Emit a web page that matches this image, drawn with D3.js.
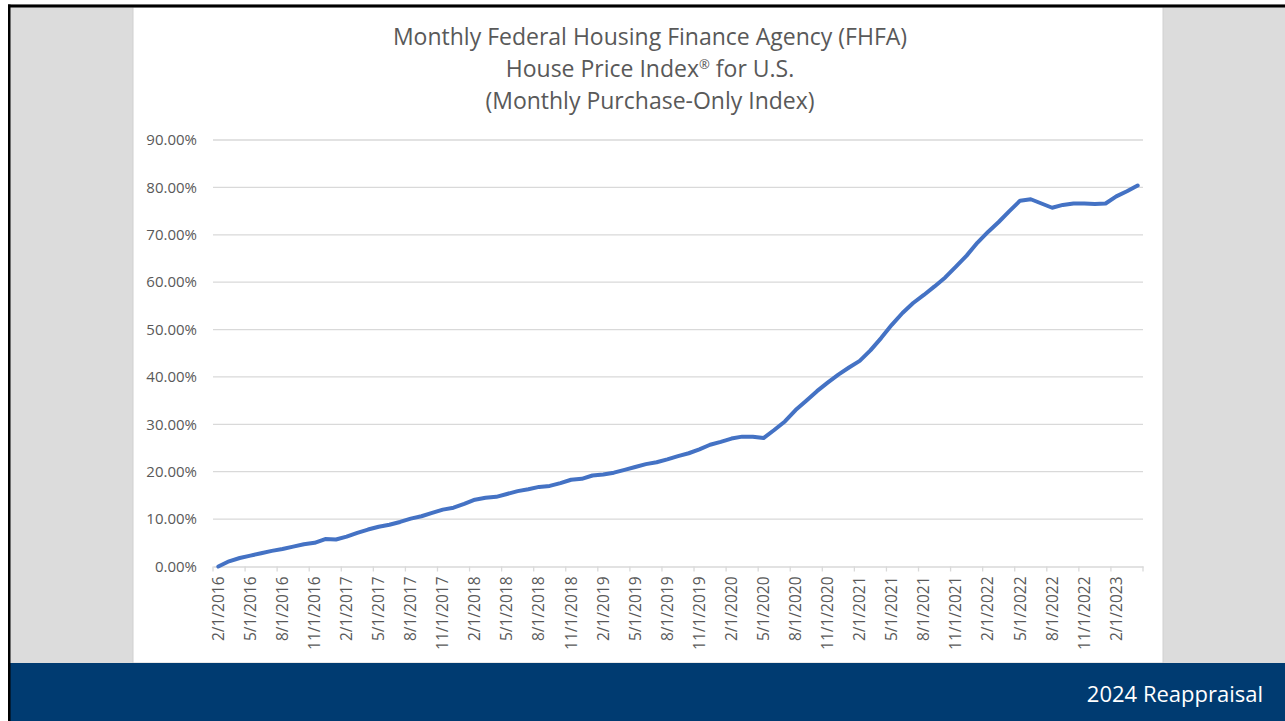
<!DOCTYPE html>
<html>
<head>
<meta charset="utf-8">
<script src="https://cdn.jsdelivr.net/npm/d3@7"></script>
<style>
body{margin:0;background:#fff;overflow:hidden;}
svg text{font-family:"Open Sans",sans-serif;}
</style>
</head>
<body>
<svg id="chart" width="1285" height="721"></svg>
<script>
// monthly categories, Feb 2016 .. Apr 2023
var months = [
    "2/1/2016","3/1/2016","4/1/2016","5/1/2016","6/1/2016","7/1/2016","8/1/2016","9/1/2016","10/1/2016","11/1/2016","12/1/2016",
    "1/1/2017","2/1/2017","3/1/2017","4/1/2017","5/1/2017","6/1/2017","7/1/2017","8/1/2017","9/1/2017","10/1/2017","11/1/2017","12/1/2017",
    "1/1/2018","2/1/2018","3/1/2018","4/1/2018","5/1/2018","6/1/2018","7/1/2018","8/1/2018","9/1/2018","10/1/2018","11/1/2018","12/1/2018",
    "1/1/2019","2/1/2019","3/1/2019","4/1/2019","5/1/2019","6/1/2019","7/1/2019","8/1/2019","9/1/2019","10/1/2019","11/1/2019","12/1/2019",
    "1/1/2020","2/1/2020","3/1/2020","4/1/2020","5/1/2020","6/1/2020","7/1/2020","8/1/2020","9/1/2020","10/1/2020","11/1/2020","12/1/2020",
    "1/1/2021","2/1/2021","3/1/2021","4/1/2021","5/1/2021","6/1/2021","7/1/2021","8/1/2021","9/1/2021","10/1/2021","11/1/2021","12/1/2021",
    "1/1/2022","2/1/2022","3/1/2022","4/1/2022","5/1/2022","6/1/2022","7/1/2022","8/1/2022","9/1/2022","10/1/2022","11/1/2022","12/1/2022",
    "1/1/2023","2/1/2023","3/1/2023","4/1/2023"
];

// cumulative change since 2/1/2016, percent
var hpiChange = [
    0.0, 1.1, 1.8, 2.3, 2.8, 3.3, 3.7, 4.2, 4.7, 5.0, 5.8,
    5.7, 6.3, 7.1, 7.8, 8.4, 8.8, 9.4, 10.1, 10.6, 11.3, 12.0, 12.4,
    13.2, 14.1, 14.5, 14.7, 15.3, 15.9, 16.3, 16.8, 17.0, 17.6, 18.3, 18.5,
    19.2, 19.4, 19.8, 20.4, 21.0, 21.6, 22.0, 22.6, 23.3, 23.9, 24.7, 25.7,
    26.3, 27.0, 27.4, 27.4, 27.1, 28.8, 30.6, 33.0, 35.0, 37.0, 38.8, 40.5,
    42.0, 43.4, 45.6, 48.2, 51.0, 53.5, 55.6, 57.3, 59.1, 61.0, 63.3, 65.6,
    68.3, 70.6, 72.7, 75.0, 77.2, 77.5, 76.6, 75.7, 76.3, 76.6, 76.6, 76.5,
    76.6, 78.1, 79.2, 80.4
];

var yTicks = [0, 10, 20, 30, 40, 50, 60, 70, 80, 90];
// each title line: [main text, superscript]
var titleLines = [
    ["Monthly Federal Housing Finance Agency (FHFA)", "", ""],
    ["House Price Index", "\u00AE", " for U.S."],
    ["(Monthly Purchase-Only Index)", "", ""]
];
var footerText = "2024 Reappraisal";

var svg = d3.select("#chart");

// slide frame
svg.append("rect").attr("x", 8).attr("y", 4).attr("width", 1277).attr("height", 717).attr("fill", "#dcdcdc");
svg.append("rect").attr("x", 133).attr("y", 7).attr("width", 1030).attr("height", 656)
    .attr("fill", "#fff").attr("stroke", "#d0d0d0").attr("stroke-width", 1);
svg.append("rect").attr("x", 8).attr("y", 663).attr("width", 1277).attr("height", 58).attr("fill", "#003b71");
svg.append("rect").attr("x", 8).attr("y", 4.5).attr("width", 1277).attr("height", 3).attr("fill", "#000");
svg.append("rect").attr("x", 8).attr("y", 4.5).attr("width", 2.5).attr("height", 717).attr("fill", "#000");

svg.append("text")
    .attr("x", 1263).attr("y", 702)
    .attr("text-anchor", "end")
    .attr("fill", "#fff")
    .style("font-size", "22px")
    .text(footerText);

// title
var title = svg.append("g").selectAll("text")
    .data(titleLines)
    .enter()
    .append("text")
        .attr("x", 650)
        .attr("y", (d, i) => 45 + i * 32)
        .attr("text-anchor", "middle")
        .attr("fill", "#595959")
        .style("font-size", "23px");
title.append("tspan").text(d => d[0]);
title.filter(d => d[1] != "").append("tspan")
    .attr("dy", -8)
    .style("font-size", "13px")
    .text(d => d[1]);
title.filter(d => d[2] != "").append("tspan")
    .attr("dy", 8)
    .text(d => d[2]);

const x = d3.scaleBand()
    .domain(months)
    .range([213, 1143])
    .padding(0);

const y = d3.scaleLinear()
    .domain([0, 90])
    .range([566.5, 140]);

// gridlines
svg.append("g").selectAll("line")
    .data(yTicks.slice(1))
    .enter()
    .append("line")
        .attr("x1", 213).attr("x2", 1143)
        .attr("y1", d => y(d)).attr("y2", d => y(d))
        .attr("stroke", "#d9d9d9")
        .attr("stroke-width", 1.3);

// y labels
const yAxis = svg.append("g")
    .attr("transform", "translate(205,0)")
    .call(d3.axisLeft(y).tickValues(yTicks).tickSize(0).tickPadding(8).tickFormat(d => d.toFixed(2) + "%"));
yAxis.select(".domain").remove();
yAxis.selectAll("text")
    .attr("fill", "#595959")
    .style("font-size", "15px")
    .style("font-family", "Open Sans");

// x axis, ticks between categories
var labelled = months.filter((d, i) => i % 3 == 0);
const xAxis = svg.append("g")
    .attr("transform", "translate(0," + y(0) + ")")
    .call(d3.axisBottom(x).tickValues(labelled).tickSize(0));
xAxis.select(".domain").attr("stroke", "#d9d9d9").attr("stroke-width", 1.3);
xAxis.selectAll("text")
    .attr("transform", "rotate(-90)")
    .attr("x", -10)
    .attr("y", 0)
    .attr("dy", "0.35em")
    .attr("text-anchor", "end")
    .attr("fill", "#595959")
    .style("font-size", "15.5px")
    .style("font-family", "Open Sans");

var tickPos = labelled.map(d => x(d)).concat([x.range()[1]]);
xAxis.append("g").selectAll("line")
    .data(tickPos)
    .enter()
    .append("line")
        .attr("x1", d => d).attr("x2", d => d)
        .attr("y1", 0).attr("y2", 5)
        .attr("stroke", "#d9d9d9")
        .attr("stroke-width", 1.3);

// series
var line = d3.line()
    .x((d, i) => x(months[i]) + x.bandwidth() / 2)
    .y(d => y(d));

svg.append("path")
    .datum(hpiChange)
    .attr("d", line)
    .attr("fill", "none")
    .attr("stroke", "#4472c4")
    .attr("stroke-width", 4)
    .attr("stroke-linejoin", "round")
    .attr("stroke-linecap", "round");
</script>
</body>
</html>
